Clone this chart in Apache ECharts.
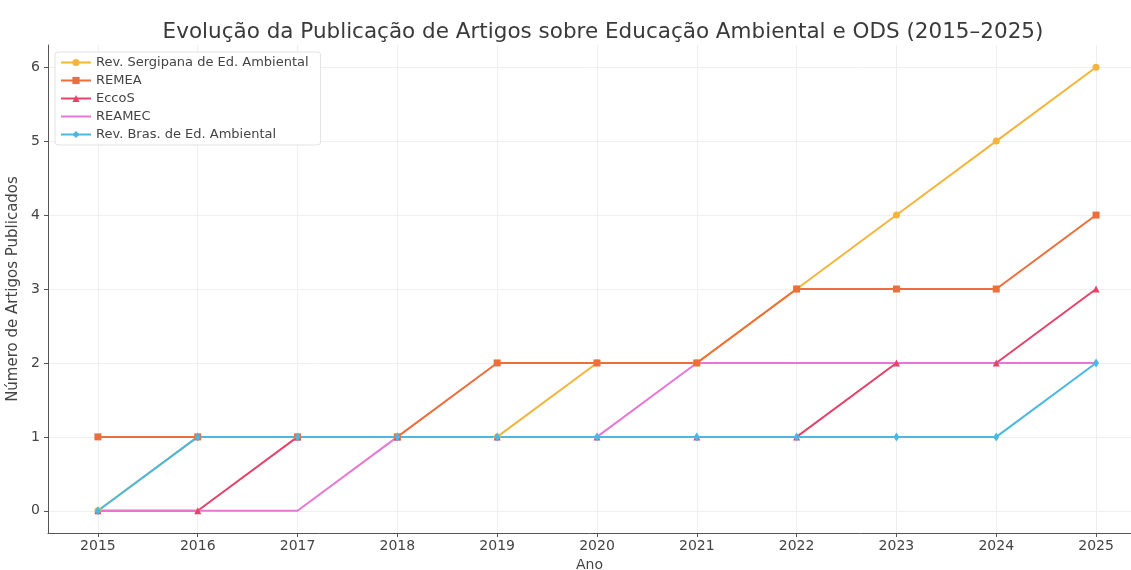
<!DOCTYPE html>
<html>
<head>
<meta charset="utf-8">
<script src="https://cdn.jsdelivr.net/npm/echarts@6/dist/echarts.min.js"></script>
<style>
  html, body { margin: 0; padding: 0; background: #fff; }
  #chart { width: 1131px; height: 570px; }
</style>
</head>
<body>
<div id="chart"></div>
<script>
// anos
const years = [2015, 2016, 2017, 2018, 2019, 2020, 2021, 2022, 2023, 2024, 2025];
const yTicks = [0, 1, 2, 3, 4, 5, 6];

// artigos publicados por revista
const sergipana = [0, 1, 1, 1, 1, 2, 2, 3, 4, 5, 6];
const remea = [1, 1, 1, 1, 2, 2, 2, 3, 3, 3, 4];
const eccos = [0, 0, 1, 1, 1, 1, 1, 1, 2, 2, 3];
const reamec = [0, 0, 0, 1, 1, 1, 2, 2, 2, 2, 2];
const revBras = [0, 1, 1, 1, 1, 1, 1, 1, 1, 1, 2];

const seriesDefs = [
  { name: 'Rev. Sergipana de Ed. Ambiental', data: sergipana, color: '#f5b53c', symbol: 'circle' },
  { name: 'REMEA', data: remea, color: '#ec6e3c', symbol: 'rect' },
  { name: 'EccoS', data: eccos, color: '#e6436a', symbol: 'triangle' },
  { name: 'REAMEC', data: reamec, color: '#e678d4', symbol: 'none' },
  { name: 'Rev. Bras. de Ed. Ambiental', data: revBras, color: '#4bb8e4', symbol: 'diamond' }
];

const font = 'DejaVu Sans';
const chart = echarts.init(document.getElementById('chart'));

chart.setOption({
  animation: false,
  textStyle: { fontFamily: font },
  title: {
    text: 'Evolução da Publicação de Artigos sobre Educação Ambiental e ODS (2015–2025)',
    left: 598,
    textAlign: 'center',
    top: 16,
    textStyle: { fontFamily: font, fontSize: 21.5, fontWeight: 'normal', color: '#3a3a3a' }
  },
  legend: {
    orient: 'vertical',
    left: 55,
    top: 52,
    padding: [4, 12, 4, 5],
    itemGap: 5,
    itemWidth: 30,
    itemHeight: 9,
    backgroundColor: '#fff',
    borderColor: '#e2e2e2',
    borderWidth: 1,
    borderRadius: 3,
    textStyle: { fontFamily: font, fontSize: 13, color: '#444' },
    data: seriesDefs.map(s => s.symbol === 'none'
      ? { name: s.name, itemStyle: { opacity: 0 } }
      : { name: s.name })
  },
  grid: { left: 48, right: 0, top: 45, bottom: 37, outerBoundsMode: 'none', containLabel: false },
  xAxis: {
    type: 'value',
    min: 2014.5,
    max: 2025.35,
    name: 'Ano',
    nameLocation: 'middle',
    nameGap: 24,
    nameTextStyle: { fontFamily: font, fontSize: 14, color: '#444' },
    axisLine: { show: true, onZero: false, lineStyle: { color: '#555', width: 1 } },
    axisTick: { show: true, customValues: years, length: 4, lineStyle: { color: '#555' } },
    axisLabel: { customValues: years, fontFamily: font, fontSize: 14, color: '#444', margin: 6, formatter: v => String(v) },
    splitLine: { show: true, customValues: years, lineStyle: { color: '#efefef', width: 1 } }
  },
  yAxis: {
    type: 'value',
    min: -0.3,
    max: 6.3,
    name: 'Número de Artigos Publicados',
    nameLocation: 'middle',
    nameGap: 17,
    nameTextStyle: { fontFamily: font, fontSize: 15, color: '#444' },
    axisLine: { show: true, onZero: false, lineStyle: { color: '#555', width: 1 } },
    axisTick: { show: true, customValues: yTicks, length: 4, lineStyle: { color: '#555' } },
    axisLabel: { customValues: yTicks, fontFamily: font, fontSize: 14, color: '#444', margin: 8 },
    splitLine: { show: true, customValues: yTicks, lineStyle: { color: '#efefef', width: 1 } }
  },
  series: seriesDefs.map(s => ({
    name: s.name,
    type: 'line',
    data: s.data.map((v, i) => [years[i], v]),
    symbol: s.symbol,
    symbolSize: s.symbol === 'diamond' ? [6, 9] : 7,
    showSymbol: s.symbol !== 'none',
    color: s.color,
    lineStyle: { color: s.color, width: 2 },
    itemStyle: { color: s.color },
    clip: false
  }))
});
</script>
</body>
</html>
